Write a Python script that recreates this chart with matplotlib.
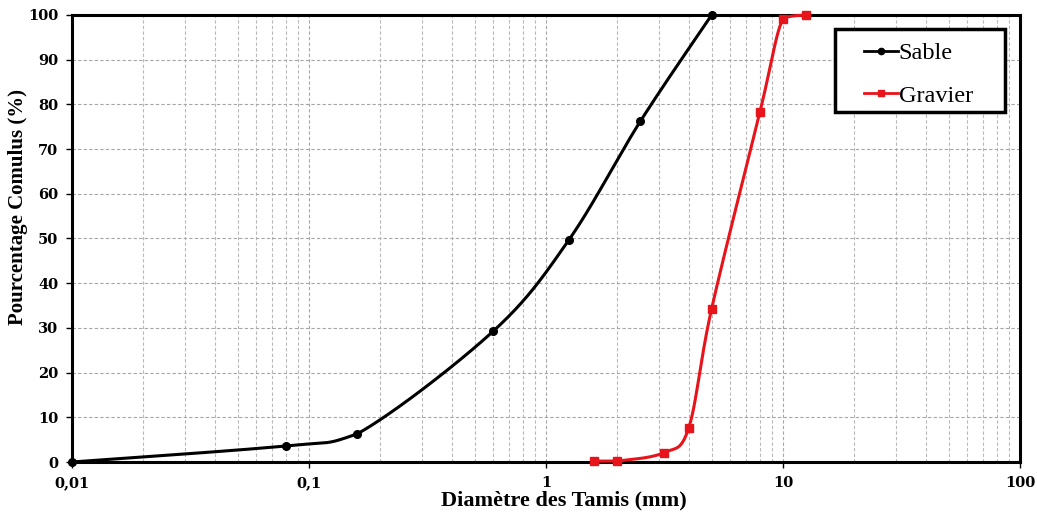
import numpy as np
import matplotlib
matplotlib.use("Agg")
import matplotlib.pyplot as plt
from matplotlib.patches import Rectangle
from matplotlib.ticker import FixedLocator, FixedFormatter, LogLocator, NullFormatter

# ---- data ----
sable_x = [0.01, 0.08, 0.16, 0.6, 1.25, 2.5, 5.0]
sable_y = [0.0, 3.6, 6.3, 29.3, 49.7, 76.2, 100.0]
grav_x = [1.6, 2.0, 3.15, 4.0, 5.0, 8.0, 10.0, 12.5]
grav_y = [0.2, 0.2, 2.1, 7.6, 34.3, 78.4, 99.2, 100.0]
xticks = [0.01, 0.1, 1, 10, 100]
xticklabels = ["0,01", "0,1", "1", "10", "100"]
yticks = list(range(0, 101, 10))

plt.rcParams['font.family'] = ['Liberation Serif', 'DejaVu Serif']

fig = plt.figure(figsize=(10.37, 5.15), dpi=100)
ax = fig.add_axes([0.0694, 0.1029, 0.9142, 0.868])
ax.set_xscale('log')
ax.set_xlim(0.01, 100)
ax.set_ylim(0, 100)


def smooth(xs, ys, n=50):
    # Excel-like Bezier smoothing in screen space, control points clamped
    # vertically to each segment so the curve does not overshoot
    W, H = 948.0, 447.0
    lx = (np.log10(xs) + 2) / 4.0 * W
    ly = np.asarray(ys, float) / 100.0 * H
    P = np.column_stack([lx, ly])
    out = [P[0]]
    m = len(P)
    for i in range(m - 1):
        p0 = P[i - 1] if i > 0 else P[i]
        p1 = P[i]
        p2 = P[i + 1]
        p3 = P[i + 2] if i + 2 < m else P[i + 1]
        c1 = p1 + (p2 - p0) / 6.0
        c2 = p2 - (p3 - p1) / 6.0
        lo, hi = min(p1[1], p2[1]), max(p1[1], p2[1])
        c1[1] = np.clip(c1[1], lo, hi)
        c2[1] = np.clip(c2[1], lo, hi)
        t = np.linspace(0, 1, n)[1:, None]
        seg = ((1 - t) ** 3) * p1 + 3 * ((1 - t) ** 2) * t * c1 \
            + 3 * (1 - t) * t ** 2 * c2 + t ** 3 * p2
        out.extend(seg)
    out = np.array(out)
    return 10 ** (out[:, 0] / W * 4 - 2), out[:, 1] / H * 100


sx, sy = smooth(sable_x, sable_y)
gx, gy = smooth(grav_x, grav_y)

red = '#e8141b'
ax.plot(sx, sy, color='black', lw=2.2, clip_on=False, zorder=3)
ax.plot(sable_x, sable_y, 'o', color='black', ms=5.5, clip_on=False, zorder=4)
ax.plot(gx, gy, color=red, lw=2.2, clip_on=False, zorder=3)
ax.plot(grav_x, grav_y, 's', color=red, ms=6, clip_on=False, zorder=4)

# legend: thick frame drawn as a box, entries placed inside it
box = Rectangle((0.805, 0.783), 0.179, 0.186, transform=ax.transAxes,
                facecolor='white', edgecolor='black', lw=2.5, zorder=5)
ax.add_patch(box)
h1, = ax.plot([], [], '-o', color='black', lw=2, ms=4.5)
h2, = ax.plot([], [], '-s', color=red, lw=2, ms=5)
leg = ax.legend([h1, h2], ['Sable', 'Gravier'], loc='upper left',
                bbox_to_anchor=(0.835, 0.9385), frameon=False,
                prop={'size': 17.5}, handlelength=1.4, handletextpad=0.05,
                borderpad=0, labelspacing=0.84, borderaxespad=0)
leg.set_zorder(6)

ax.xaxis.set_major_locator(FixedLocator(xticks))
ax.xaxis.set_major_formatter(FixedFormatter(xticklabels))
ax.xaxis.set_minor_locator(LogLocator(base=10, subs=np.arange(2, 10), numticks=20))
ax.xaxis.set_minor_formatter(NullFormatter())
ax.set_yticks(yticks)

ax.grid(True, which='major', axis='both', color='#a6a6a6', ls=(0, (3, 2)), lw=0.8)
ax.grid(True, which='minor', axis='x', color='#b8b8b8', ls=(0, (3, 2)), lw=0.8)
ax.set_axisbelow(True)

ax.tick_params(axis='both', which='major', direction='out', length=4, width=1, pad=6)
ax.tick_params(axis='x', which='minor', length=0)
for lab in ax.get_xticklabels() + ax.get_yticklabels():
    lab.set_fontweight('bold')
    lab.set_family(['DejaVu Serif'])
    lab.set_fontsize(10.5)

for s in ax.spines.values():
    s.set_linewidth(2.2)
    s.set_color('black')

ax.set_xlabel('Diamètre des Tamis (mm)', fontsize=16, fontweight='bold')
ax.xaxis.set_label_coords(0.519, -0.085)
ax.xaxis.label.set_va('center')
ax.set_ylabel('Pourcentage Comulus (%)', fontsize=15, fontweight='bold')
ax.yaxis.set_label_coords(-0.057, 0.57)
ax.yaxis.label.set_va('center')

fig.savefig('out.png', dpi=100)
